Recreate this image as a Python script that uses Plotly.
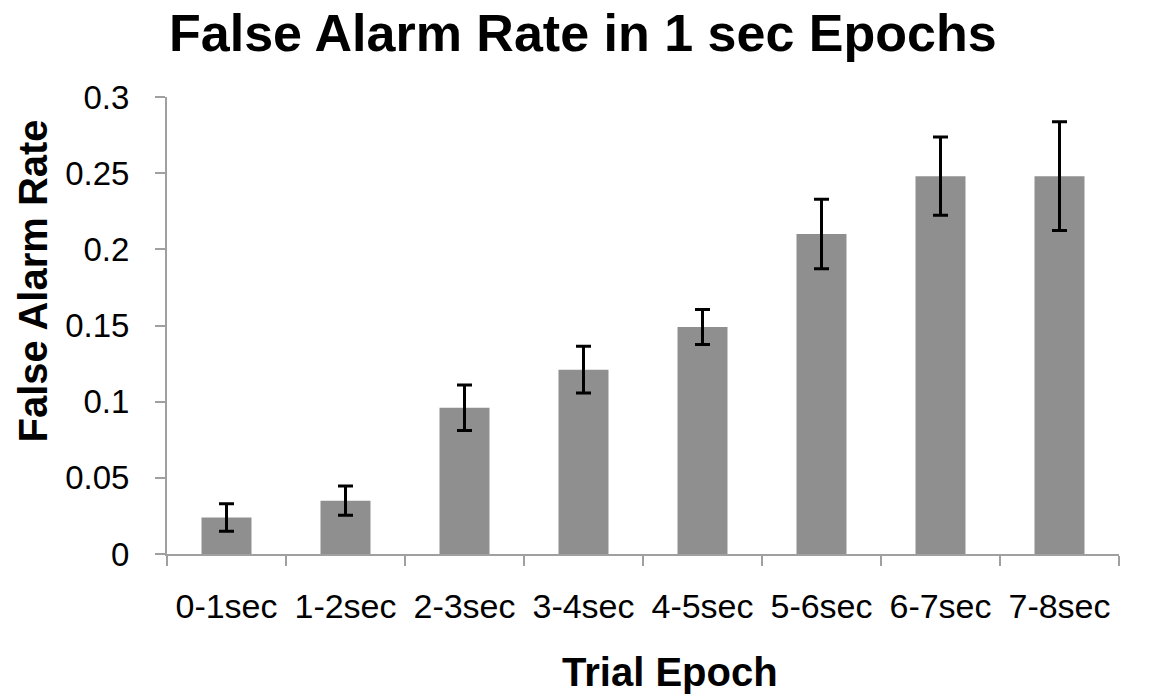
import plotly.graph_objects as go

# False alarm rate per one-second epoch of the trial, with error bars
epochs = ["0-1sec", "1-2sec", "2-3sec", "3-4sec", "4-5sec", "5-6sec", "6-7sec", "7-8sec"]
false_alarm_rate = [0.024, 0.035, 0.096, 0.121, 0.149, 0.210, 0.248, 0.248]
rate_error = [0.009, 0.0096, 0.015, 0.0153, 0.0115, 0.0228, 0.0257, 0.0357]
y_ticks = [0, 0.05, 0.1, 0.15, 0.2, 0.25, 0.3]
y_tick_text = ["0", "0.05", "0.1", "0.15", "0.2", "0.25", "0.3"]

FONT = "Liberation Sans, Arial, sans-serif"
AXIS_GRAY = "#a0a0a0"

fig = go.Figure(
    go.Bar(
        x=epochs,
        y=false_alarm_rate,
        width=0.42,
        marker=dict(color="#8f8f8f", line=dict(width=0)),
        error_y=dict(
            type="data",
            array=rate_error,
            visible=True,
            color="black",
            thickness=3,
            width=7.5,
        ),
    )
)

fig.update_layout(
    width=1175,
    height=698,
    margin=dict(l=167, r=56, t=97, b=144),
    paper_bgcolor="white",
    plot_bgcolor="white",
    showlegend=False,
    title=dict(
        text="<b>False Alarm Rate in 1 sec Epochs</b>",
        x=0.496,
        xanchor="center",
        y=0.9534,
        yanchor="middle",
        font=dict(family=FONT, size=52, color="black"),
    ),
    font=dict(family=FONT, color="black"),
)

fig.update_xaxes(
    type="category",
    range=[-0.5, 7.5],
    showline=True,
    linecolor=AXIS_GRAY,
    linewidth=2,
    ticks="outside",
    tickson="boundaries",
    ticklen=10,
    tickwidth=2,
    tickcolor=AXIS_GRAY,
    tickfont=dict(family=FONT, size=34, color="black"),
    ticklabelstandoff=21,
    showgrid=False,
    zeroline=False,
)

fig.update_yaxes(
    range=[0, 0.3],
    tickvals=y_ticks,
    ticktext=y_tick_text,
    showline=True,
    linecolor=AXIS_GRAY,
    linewidth=2,
    ticks="outside",
    ticklen=10,
    tickwidth=2,
    tickcolor=AXIS_GRAY,
    tickfont=dict(family=FONT, size=33, color="black"),
    ticklabelstandoff=19,
    showgrid=False,
    zeroline=False,
)

# Axis titles placed as annotations
fig.add_annotation(
    text="<b>Trial Epoch</b>",
    xref="paper", yref="paper",
    x=0.528, y=-0.258,
    xanchor="center", yanchor="middle",
    showarrow=False,
    font=dict(family=FONT, size=40, color="black"),
)
fig.add_annotation(
    text="<b>False Alarm Rate</b>",
    xref="paper", yref="paper",
    x=-0.1404, y=0.597,
    xanchor="center", yanchor="middle",
    textangle=-90,
    showarrow=False,
    font=dict(family=FONT, size=40, color="black"),
)

fig.write_html("out.html")
